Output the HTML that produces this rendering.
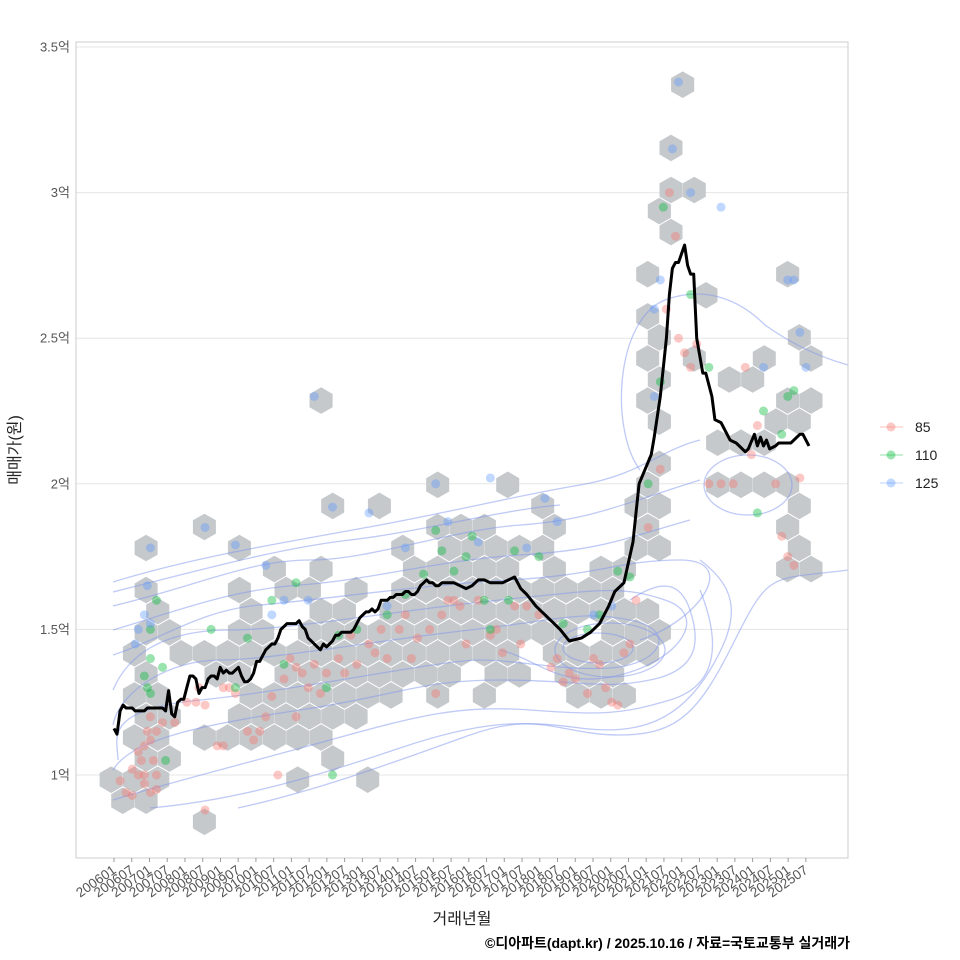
<!DOCTYPE html>
<html><head><meta charset="utf-8">
<style>
html,body{margin:0;padding:0;background:#fff;}
svg{display:block;font-family:"Liberation Sans","Noto Sans CJK KR",sans-serif;}
</style></head>
<body>
<svg id="chart" width="960" height="960" viewBox="0 0 960 960" xmlns="http://www.w3.org/2000/svg">
<rect x="0" y="0" width="960" height="960" fill="#fff"/>
<g id="grid"></g>
<g id="hexes"></g>
<g id="contours" fill="none" stroke="#7f95ee" stroke-opacity="0.5" stroke-width="1.3">
<path d="M113,582 C200,555 300,540 380,525 S520,495 580,485 S660,450 700,440"/>
<path d="M113,606 C200,585 250,560 310,560 S450,530 520,525 S620,505 700,480"/>
<path d="M113,630 C180,610 230,590 300,585 S440,560 520,555 S620,540 690,520"/>
<path d="M113,655 C160,640 200,610 260,605 S420,585 510,580 S620,560 680,560 S700,620 640,640"/>
<path d="M113,690 C130,650 170,630 230,630 S400,610 500,600 S620,585 665,600 S680,660 620,675 S540,660 500,650"/>
<path d="M113,725 C120,690 170,660 220,660 S380,640 470,630 S580,610 630,620 S660,665 610,668 S520,660 480,660 S300,690 200,700 S118,740 118,760"/>
<path d="M113,770 C130,740 200,725 300,710 S420,680 500,680 S600,690 650,680 S700,640 690,610 S660,580 630,600"/>
<path d="M113,800 C160,785 240,765 330,740 S460,705 530,710 S620,715 670,700 S720,640 700,590"/>
<path d="M150,808 C240,800 320,775 400,748 S520,720 580,728 S680,720 710,670 S740,590 700,560"/>
<path d="M238,808 C320,790 400,760 470,735 S560,735 620,735 S700,710 735,640 S770,580 848,570"/>
<path d="M640,470 C610,430 615,320 665,300 C705,285 740,300 765,325 C800,350 830,360 848,365"/>
<ellipse cx="748" cy="485" rx="44" ry="30"/>
<ellipse cx="610" cy="650" rx="55" ry="27"/>
<ellipse cx="598" cy="648" rx="35" ry="15"/>
<path d="M113,592 C200,570 280,548 350,540 S500,510 560,505"/>
</g>
<g id="points"></g>
<g id="line"></g>
<rect x="76" y="42" width="772" height="816" fill="none" stroke="#cccccc" stroke-width="1"/>
<g id="axes"></g>
<text x="20" y="450" transform="rotate(-90 20 450)" text-anchor="middle" font-size="16" fill="#222">매매가(원)</text>
<text x="462" y="924" text-anchor="middle" font-size="16" fill="#222">거래년월</text>
<text x="850" y="948" text-anchor="end" font-size="14" font-weight="bold" fill="#000">©디아파트(dapt.kr) / 2025.10.16 / 자료=국토교통부 실거래가</text>
<g id="legend"></g>
</svg>
<script>
// ---- data ----
const yTicks = [1, 1.5, 2, 2.5, 3, 3.5];
const yTickLabels = ["1억", "1.5억", "2억", "2.5억", "3억", "3.5억"];
const xTickLabels = [];
for (let y = 2006; y <= 2025; y++) { xTickLabels.push(y + "01"); xTickLabels.push(y + "07"); }
const lineMonths = [0,1,2,3,4,5,6,7,8,9,10,11,12,13,14,15,16,17,18,19,20,21,22,23,24,25,26,27,28,29,30,31,32,33,34,35,36,37,38,39,40,41,42,43,44,45,46,47,48,49,50,51,52,53,54,55,56,57,58,59,60,61,62,63,64,65,66,67,68,69,70,71,72,73,74,75,76,77,78,79,80,81,82,83,84,85,86,87,88,89,90,91,92,93,94,95,96,97,98,99,100,101,102,103,104,105,106,107,108,110,112,114,116,118,120,122,124,126,128,130,132,134,136,139,142,147,150,154,157,160,163,165,168,171,172,173,177,178,180,182,183,184,185,186,188,189,190,191,192,194,195,197,198,200,203,205,208,209,211,212,213,214,215,216,218,219,223,226,227,229,230];
const lineValues = [1.16,1.14,1.22,1.24,1.23,1.23,1.23,1.22,1.22,1.22,1.22,1.23,1.23,1.23,1.23,1.23,1.23,1.22,1.29,1.21,1.2,1.25,1.26,1.26,1.3,1.34,1.34,1.33,1.28,1.3,1.3,1.33,1.34,1.34,1.33,1.37,1.35,1.36,1.35,1.35,1.36,1.37,1.34,1.32,1.32,1.33,1.35,1.39,1.39,1.41,1.43,1.44,1.45,1.45,1.47,1.5,1.51,1.52,1.52,1.52,1.52,1.53,1.51,1.5,1.47,1.46,1.45,1.44,1.43,1.45,1.44,1.45,1.46,1.48,1.48,1.49,1.49,1.49,1.49,1.5,1.52,1.54,1.55,1.56,1.56,1.57,1.56,1.57,1.6,1.6,1.6,1.61,1.61,1.62,1.62,1.62,1.63,1.63,1.62,1.62,1.63,1.65,1.66,1.67,1.66,1.66,1.65,1.65,1.66,1.66,1.66,1.65,1.64,1.65,1.67,1.67,1.66,1.66,1.66,1.67,1.68,1.64,1.62,1.58,1.55,1.5,1.46,1.47,1.49,1.52,1.58,1.63,1.66,1.8,1.9,2.0,2.1,2.16,2.3,2.5,2.65,2.74,2.76,2.76,2.82,2.75,2.72,2.72,2.5,2.38,2.38,2.3,2.22,2.21,2.15,2.14,2.11,2.12,2.17,2.13,2.16,2.13,2.15,2.12,2.13,2.14,2.14,2.17,2.17,2.13];
// hex bins as grid column/row indices
const hexCols = [0,0,0,1,-1,0,-1,5,1,-1,-1,5,-1,1,4,6,-1,2,3,-1,5,6,-1,4,5,2,3,4,-1,-1,2,3,4,5,-2,-1,5,-1,5,-2,-1,5,-2,5,6,-3,
 -10,-7,-15,-13,-6,-20,-10,-9,-8,-5,-23,-19,-12,-10,-9,-8,-7,-6,-17,-15,-11,-10,-9,-8,-7,-5,-3,
 -23,-19,-17,-16,-14,-12,-11,-10,-9,-8,-7,-6,-5,-4,-3,
 -22,-18,-15,-14,-12,-11,-10,-9,-8,-7,-6,-5,-4,-3,-2,-1,
 -23,-22,-19,-18,-16,-15,-14,-13,-12,-11,-10,-9,-8,-7,-6,-5,-3,-2,-1,
 -23,-21,-20,-19,-18,-17,-16,-15,-14,-13,-12,-11,-10,-9,-8,-7,-5,-4,-3,-2,-1,
 -23,-20,-19,-17,-16,-15,-14,-13,-12,-11,-10,-8,-7,-5,-4,-3,
 -23,-22,-18,-17,-16,-15,-14,-13,-12,-10,-8,-4,-3,-2,
 -23,-22,-19,-18,-17,-16,-15,-14,
 -23,-22,-20,-19,-18,-17,-16,-15,
 -23,-22,-15,
 -24,-23,-22,-16,-13,
 -24,-23,-20,-15];
const hexRows = [-5,-2,0,0,1,2,4,4,5,6,7,7,8,8,8,8,9,9,9,10,10,10,11,11,11,12,12,12,13,14,14,14,14,14,15,15,15,16,16,17,17,17,18,18,18,18,
 14,14,15,15,15,16,16,16,16,16,17,17,17,17,17,17,17,17,18,18,18,18,18,18,18,18,18,
 19,19,19,19,19,19,19,19,19,19,19,19,19,19,19,
 20,20,20,20,20,20,20,20,20,20,20,20,20,20,20,20,
 21,21,21,21,21,21,21,21,21,21,21,21,21,21,21,21,21,21,21,
 22,22,22,22,22,22,22,22,22,22,22,22,22,22,22,22,22,22,22,22,22,
 23,23,23,23,23,23,23,23,23,23,23,23,23,23,23,23,
 24,24,24,24,24,24,24,24,24,24,24,24,24,24,
 25,25,25,25,25,25,25,25,
 26,26,26,26,26,26,26,26,
 27,27,27,
 28,28,28,28,28,
 29,29,30,10];
const s85Months = [2,4,6,8,9,10,10,11,12,12,13,14,8,14,16,27,28,30,30,34,36,38,40,44,46,48,50,52,54,56,58,60,62,64,66,70,74,78,80,84,88,90,94,96,100,104,106,108,110,112,116,120,124,128,132,136,140,146,150,152,156,158,162,164,166,170,172,176,180,182,183,185,186,188,190,192,196,200,204,208,210,212,218,220,222,226,224,6,10,12,14,20,24,36,60,68,76,86,98,114,126,134,144,148,160,168];
const s85Values = [0.98,0.94,0.93,1.0,1.05,1.1,1.0,1.15,1.2,0.94,1.05,1.0,1.08,1.15,1.18,1.25,1.3,0.88,1.24,1.1,1.3,1.3,1.28,1.15,1.12,1.15,1.2,1.27,1.0,1.33,1.4,1.37,1.35,1.3,1.38,1.35,1.4,1.48,1.38,1.45,1.5,1.4,1.5,1.55,1.47,1.5,1.28,1.55,1.6,1.6,1.45,1.6,1.48,1.42,1.58,1.58,1.55,1.4,1.35,1.33,1.28,1.4,1.3,1.25,1.24,1.45,1.6,1.85,2.05,2.6,3.0,2.85,2.5,2.45,2.4,2.48,2.0,2.0,2.0,2.4,2.1,2.2,2.0,1.82,1.75,2.02,1.72,1.02,0.97,1.12,0.95,1.18,1.25,1.1,1.2,1.28,1.35,1.42,1.4,1.58,1.5,1.45,1.37,1.32,1.38,1.42];
const s110Months = [10,11,12,12,14,16,17,12,32,40,44,52,56,60,70,74,80,90,96,102,106,108,112,116,118,122,124,130,132,140,148,156,160,166,170,176,180,181,190,196,212,214,222,224,220,72];
const s110Values = [1.34,1.3,1.5,1.4,1.6,1.37,1.05,1.28,1.5,1.3,1.47,1.6,1.38,1.66,1.3,1.48,1.5,1.55,1.62,1.69,1.84,1.77,1.7,1.75,1.82,1.6,1.5,1.6,1.77,1.75,1.52,1.5,1.55,1.7,1.68,2.0,2.35,2.95,2.65,2.4,1.9,2.25,2.3,2.32,2.17,1.0];
const s125Months = [7,8,10,11,12,12,30,40,50,52,56,66,64,72,84,90,96,106,110,120,124,136,142,146,158,164,180,178,186,184,190,200,214,222,224,226,228,178];
const s125Values = [1.45,1.5,1.55,1.65,1.78,1.52,1.85,1.79,1.72,1.55,1.6,2.3,1.6,1.92,1.9,1.58,1.78,2.0,1.87,1.8,2.02,1.78,1.95,1.87,1.55,1.58,2.7,2.3,3.38,3.15,3.0,2.95,2.4,2.7,2.7,2.52,2.4,2.6];
const seriesNames = ["85", "110", "125"];
const seriesColors = ["#f8766d", "#00ba38", "#619cff"];

// ---- scales ----
const X0 = 114, PX_PER_MONTH = 3.035;
const xScale = m => X0 + m * PX_PER_MONTH;
const TICK_STEP = 17.74;
const tickX = i => X0 + i * TICK_STEP;
const Y1 = 775, PX_PER_EOK = 291.2;
const yScale = v => Y1 - (v - 1) * PX_PER_EOK;
const NS = "http://www.w3.org/2000/svg";
function mk(tag, attrs, parent) {
  const e = document.createElementNS(NS, tag);
  for (const k in attrs) e.setAttribute(k, attrs[k]);
  parent.appendChild(e);
  return e;
}

// grid + y axis
const grid = document.getElementById("grid");
const axes = document.getElementById("axes");
yTicks.forEach((v, i) => {
  const y = yScale(v);
  const gl = mk("line", {x1: 76, x2: 848, y1: y, y2: y, stroke: "#e6e6e6", "stroke-width": 1}, grid);
  
  
  const t = mk("text", {x: 70, y: y + 4.5, "text-anchor": "end", "font-size": 13, fill: "#555"}, axes);
  t.textContent = yTickLabels[i];
  
  
});
// x axis
xTickLabels.forEach((lab, i) => {
  const x = tickX(i);
  const tk = mk("line", {x1: x, x2: x, y1: 858, y2: 862, stroke: "#999", "stroke-width": 1}, axes);
  
  
  const t = mk("text", {x: x + 3, y: 872, "text-anchor": "end", "font-size": 13.5, fill: "#555", transform: `rotate(-35 ${x + 3} 872)`}, axes);
  t.textContent = lab;
  
  
});

// hex bins
const HX0 = 671, HY0 = 190, HDX = 23.33, HDY = 21.06, HR = 13.3;
const hexG = document.getElementById("hexes");
hexCols.forEach((c, i) => {
  const r = hexRows[i];
  const cx = HX0 + HDX * (c + (Math.abs(r) % 2 === 1 ? 0.5 : 0));
  const cy = HY0 + HDY * r;
  let pts = [];
  for (let k = 0; k < 6; k++) {
    const a = Math.PI / 180 * (60 * k - 90);
    pts.push((cx + HR * Math.cos(a)).toFixed(1) + "," + (cy + HR * Math.sin(a)).toFixed(1));
  }
  const h = mk("polygon", {points: pts.join(" "), fill: "#c5c9cc"}, hexG);
  
  
});

// points
const ptG = document.getElementById("points");
const allM = [s85Months, s110Months, s125Months];
const allV = [s85Values, s110Values, s125Values];
allM.forEach((ms, si) => {
  ms.forEach((m, j) => {
    const p = mk("circle", {cx: xScale(m), cy: yScale(allV[si][j]), r: 4.5, fill: seriesColors[si], "fill-opacity": 0.4}, ptG);
    
    
  });
});

// line
const lineG = document.getElementById("line");
const d = lineMonths.map((m, i) => (i ? "L" : "M") + xScale(m).toFixed(1) + "," + yScale(lineValues[i]).toFixed(1)).join(" ");
const lp = mk("path", {d: d, fill: "none", stroke: "#000", "stroke-width": 3, "stroke-linejoin": "round"}, lineG);



// legend
const lg = document.getElementById("legend");
seriesNames.forEach((n, i) => {
  const y = 427 + i * 28;
  const g = mk("g", {}, lg);
  
  
  mk("line", {x1: 880, x2: 903, y1: y, y2: y, stroke: seriesColors[i], "stroke-opacity": 0.35, "stroke-width": 1.2}, g);
  mk("circle", {cx: 891, cy: y, r: 4.5, fill: seriesColors[i], "fill-opacity": 0.4}, g);
  const t = mk("text", {x: 915, y: y + 5, "font-size": 14, fill: "#222"}, g);
  t.textContent = n;
});
</script>
</body></html>
